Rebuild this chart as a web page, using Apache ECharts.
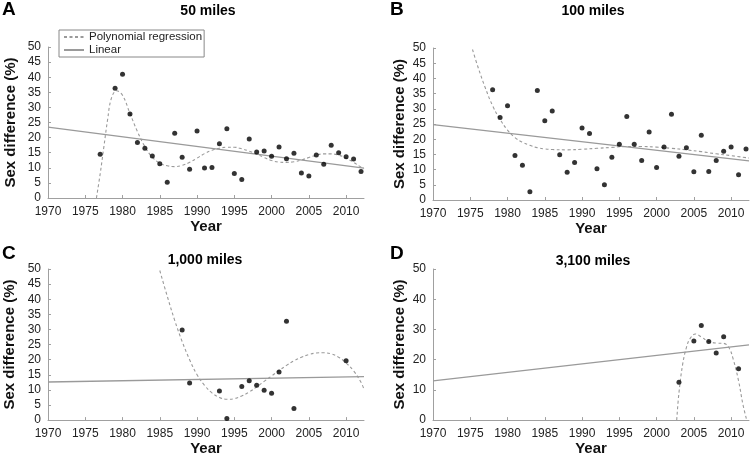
<!DOCTYPE html>
<html>
<head>
<meta charset="utf-8">
<script src="https://cdn.jsdelivr.net/npm/echarts@6/dist/echarts.min.js"></script>
<style>
  html, body { margin: 0; padding: 0; background: #fff; }
  #chart { width: 752px; height: 457px; }
</style>
</head>
<body>
<div id="chart"></div>
<script>
// tick labels
const yearTicks = [1970, 1975, 1980, 1985, 1990, 1995, 2000, 2005, 2010];

// A - 50 miles
const aYears = [1977, 1979, 1980, 1981, 1982, 1983, 1984, 1985, 1986, 1987, 1988, 1989, 1990, 1991, 1992, 1993, 1994, 1995, 1996, 1997, 1998, 1999, 2000, 2001, 2002, 2003, 2004, 2005, 2006, 2007, 2008, 2009, 2010, 2011, 2012];
const aDiff = [14.5, 36.3, 41.0, 27.8, 18.4, 16.5, 13.9, 11.3, 5.2, 21.4, 13.5, 9.5, 22.2, 9.9, 10.1, 18.0, 22.9, 8.1, 6.1, 19.5, 15.2, 15.6, 13.8, 16.9, 13.0, 14.8, 8.3, 7.3, 14.2, 11.2, 17.5, 15.0, 13.7, 12.9, 8.8];
const aCurveYears = [1976.5, 1977, 1977.5, 1978, 1978.5, 1979.2, 1980, 1981, 1982, 1983, 1984, 1985, 1986, 1987, 1988, 1989, 1990, 1991, 1992, 1993, 1994, 1995, 1996, 1997, 1998, 1999, 2000, 2001, 2002, 2003, 2004, 2005, 2006, 2007, 2008, 2009, 2010, 2011, 2012, 2012.4];
const aCurveDiff = [0, 8, 17, 26, 33, 35.5, 34, 28, 22, 17, 13.5, 11.5, 10.7, 10.4, 10.8, 11.8, 13.2, 14.7, 15.8, 16.5, 16.8, 16.8, 16.3, 15.5, 14.5, 13.4, 12.4, 11.9, 11.8, 12, 12.6, 13.4, 14.2, 14.6, 14.6, 14.2, 13.2, 11.8, 10.2, 9.6];
const aLineYears = [1970, 2012.4];
const aLineDiff = [23.5, 9.9];

// B - 100 miles
const bYears = [1978, 1979, 1980, 1981, 1982, 1983, 1984, 1985, 1986, 1987, 1988, 1989, 1990, 1991, 1992, 1993, 1994, 1995, 1996, 1997, 1998, 1999, 2000, 2001, 2002, 2003, 2004, 2005, 2006, 2007, 2008, 2009, 2010, 2011, 2012];
const bDiff = [36.3, 27.1, 31.0, 14.6, 11.4, 2.7, 36.0, 26.1, 29.3, 14.9, 9.1, 12.3, 23.7, 21.9, 10.3, 5.0, 14.1, 18.3, 27.5, 18.3, 13.0, 22.4, 10.7, 17.4, 28.2, 14.4, 17.2, 9.3, 21.3, 9.4, 13.0, 16.0, 17.4, 8.3, 16.8];
const bCurveYears = [1975.3, 1976, 1977, 1978, 1979, 1980, 1981, 1982, 1983, 1984, 1985, 1986, 1988, 1990, 1992, 1994, 1996, 1998, 2000, 2002, 2004, 2006, 2008, 2010, 2012.4];
const bCurveDiff = [49.5, 44, 37, 31, 26.5, 23, 20.5, 19, 18, 17.2, 16.8, 16.6, 16.5, 16.7, 17, 17.3, 17.6, 17.6, 17.4, 17, 16.5, 15.9, 15.2, 14.6, 13.8];
const bLineYears = [1970, 2012.4];
const bLineDiff = [24.8, 12.9];

// C - 1,000 miles
const cYears = [1988, 1989, 1993, 1994, 1996, 1997, 1998, 1999, 2000, 2001, 2002, 2003, 2010];
const cDiff = [29.8, 12.3, 9.6, 0.5, 11.1, 13.0, 11.5, 9.9, 8.9, 15.9, 32.7, 3.8, 19.6];
const cCurveYears = [1985, 1986, 1987, 1988, 1989, 1990, 1991, 1992, 1993, 1994, 1995, 1996, 1997, 1998, 1999, 2000, 2001, 2002, 2003, 2004, 2005, 2006, 2007, 2008, 2009, 2010, 2011, 2012, 2012.4];
const cCurveDiff = [49.5, 41, 33, 26, 20, 15, 11.5, 9, 7.5, 6.9, 7.1, 8, 9.3, 11, 12.8, 14.6, 16.4, 18.1, 19.6, 20.8, 21.7, 22.2, 22.3, 21.9, 20.8, 18.9, 16.3, 12.5, 10.2];
const cLineYears = [1970, 2012.4];
const cLineDiff = [12.6, 14.4];

// D - 3,100 miles
const dYears = [2003, 2005, 2006, 2007, 2008, 2009, 2011];
const dDiff = [12.5, 26.2, 31.3, 26.0, 22.2, 27.6, 17.0];
const dCurveYears = [2002.7, 2003, 2003.5, 2004, 2004.5, 2005.2, 2006, 2007, 2008, 2009, 2009.7, 2010.3, 2011, 2011.6, 2012.1];
const dCurveDiff = [0, 9, 18.5, 24, 27, 28.5, 27.5, 26, 25.5, 25.4, 24, 20, 13, 5, 0];
const dLineYears = [1970, 2012.4];
const dLineDiff = [13.0, 24.9];

const zip = (xs, ys) => xs.map((x, i) => [x, ys[i]]);

const FONT = 'Liberation Sans, Arial, sans-serif';
const AXIS_GRAY = '#a0a0a0';
const LINE_GRAY = '#9a9a9a';

const grids = [
  { left: 48, top: 47, width: 316, height: 151 },
  { left: 433, top: 48, width: 316, height: 152 },
  { left: 48, top: 269, width: 316, height: 153 },
  { left: 433, top: 269, width: 316, height: 154 }
];
const nameGaps = [30, 26, 31, 26];
const xNameGaps = [21, 20, 15, 15];

const xAxes = grids.map((g, i) => ({
  type: 'value',
  gridIndex: i,
  min: 1970,
  max: 2012.4,
  name: 'Year',
  nameLocation: 'middle',
  nameGap: xNameGaps[i],
  nameTextStyle: { fontFamily: FONT, fontWeight: 'bold', fontSize: 15, color: '#111' },
  splitLine: { show: false },
  axisLine: { lineStyle: { color: AXIS_GRAY, width: 1 } },
  axisTick: { inside: true, length: 3, customValues: yearTicks, lineStyle: { color: AXIS_GRAY } },
  axisLabel: {
    customValues: yearTicks,
    formatter: v => String(v),
    margin: 8, fontFamily: FONT, fontSize: 12, color: '#222'
  }
}));

const yAxes = grids.map((g, i) => ({
  type: 'value',
  gridIndex: i,
  min: 0,
  max: 50,
  interval: i === 3 ? 10 : 5,
  name: 'Sex difference (%)',
  nameLocation: 'middle',
  nameGap: nameGaps[i],
  nameTextStyle: { fontFamily: FONT, fontWeight: 'bold', fontSize: 15, color: '#111' },
  splitLine: { show: false },
  axisLine: { show: true, lineStyle: { color: AXIS_GRAY, width: 1 } },
  axisTick: { show: true, inside: true, length: 3, lineStyle: { color: AXIS_GRAY } },
  axisLabel: { margin: 7, fontFamily: FONT, fontSize: 12, color: '#222' }
}));

const panels = [
  [aYears, aDiff, aCurveYears, aCurveDiff, aLineYears, aLineDiff],
  [bYears, bDiff, bCurveYears, bCurveDiff, bLineYears, bLineDiff],
  [cYears, cDiff, cCurveYears, cCurveDiff, cLineYears, cLineDiff],
  [dYears, dDiff, dCurveYears, dCurveDiff, dLineYears, dLineDiff]
];

const series = [];
panels.forEach((p, i) => {
  series.push({
    name: 'Linear',
    type: 'line',
    xAxisIndex: i, yAxisIndex: i,
    data: zip(p[4], p[5]),
    symbol: 'none',
    lineStyle: { color: LINE_GRAY, width: 1.3 },
    itemStyle: { color: LINE_GRAY },
    silent: true
  });
  series.push({
    name: 'Polynomial regression',
    type: 'line',
    xAxisIndex: i, yAxisIndex: i,
    data: zip(p[2], p[3]),
    smooth: 0.4,
    symbol: 'none',
    lineStyle: { color: LINE_GRAY, width: 1.1, type: [3, 2.5] },
    itemStyle: { color: LINE_GRAY },
    silent: true
  });
  series.push({
    type: 'scatter',
    xAxisIndex: i, yAxisIndex: i,
    data: zip(p[0], p[1]),
    symbolSize: 5,
    itemStyle: { color: '#000' },
    z: 5
  });
});

const titleStyle = { fontFamily: FONT, fontWeight: 'bold', fontSize: 14, color: '#000' };
const letterStyle = { fontFamily: FONT, fontWeight: 'bold', fontSize: 19, color: '#000' };

const chart = echarts.init(document.getElementById('chart'));
chart.setOption({
  animation: false,
  backgroundColor: '#fff',
  title: [
    { text: 'A', left: 2, top: 0, padding: 0, textStyle: letterStyle },
    { text: 'B', left: 390, top: 0, padding: 0, textStyle: letterStyle },
    { text: 'C', left: 2, top: 244, padding: 0, textStyle: letterStyle },
    { text: 'D', left: 390, top: 244, padding: 0, textStyle: letterStyle },
    { text: '50 miles', left: 208, top: 4, textAlign: 'center', padding: 0, textStyle: titleStyle },
    { text: '100 miles', left: 593, top: 4, textAlign: 'center', padding: 0, textStyle: titleStyle },
    { text: '1,000 miles', left: 205, top: 253, textAlign: 'center', padding: 0, textStyle: titleStyle },
    { text: '3,100 miles', left: 593, top: 254, textAlign: 'center', padding: 0, textStyle: titleStyle }
  ],
  legend: {
    data: ['Polynomial regression', 'Linear'],
    orient: 'vertical',
    left: 59,
    top: 30,
    padding: [1, 2, 1, 4],
    itemGap: 1,
    itemWidth: 20,
    itemHeight: 8,
    itemStyle: { opacity: 0 },
    borderColor: '#888',
    borderWidth: 1,
    selectedMode: false,
    textStyle: { fontFamily: FONT, fontSize: 11.5, color: '#222', lineHeight: 10 }
  },
  grid: grids,
  xAxis: xAxes,
  yAxis: yAxes,
  series: series
});
</script>
</body>
</html>
